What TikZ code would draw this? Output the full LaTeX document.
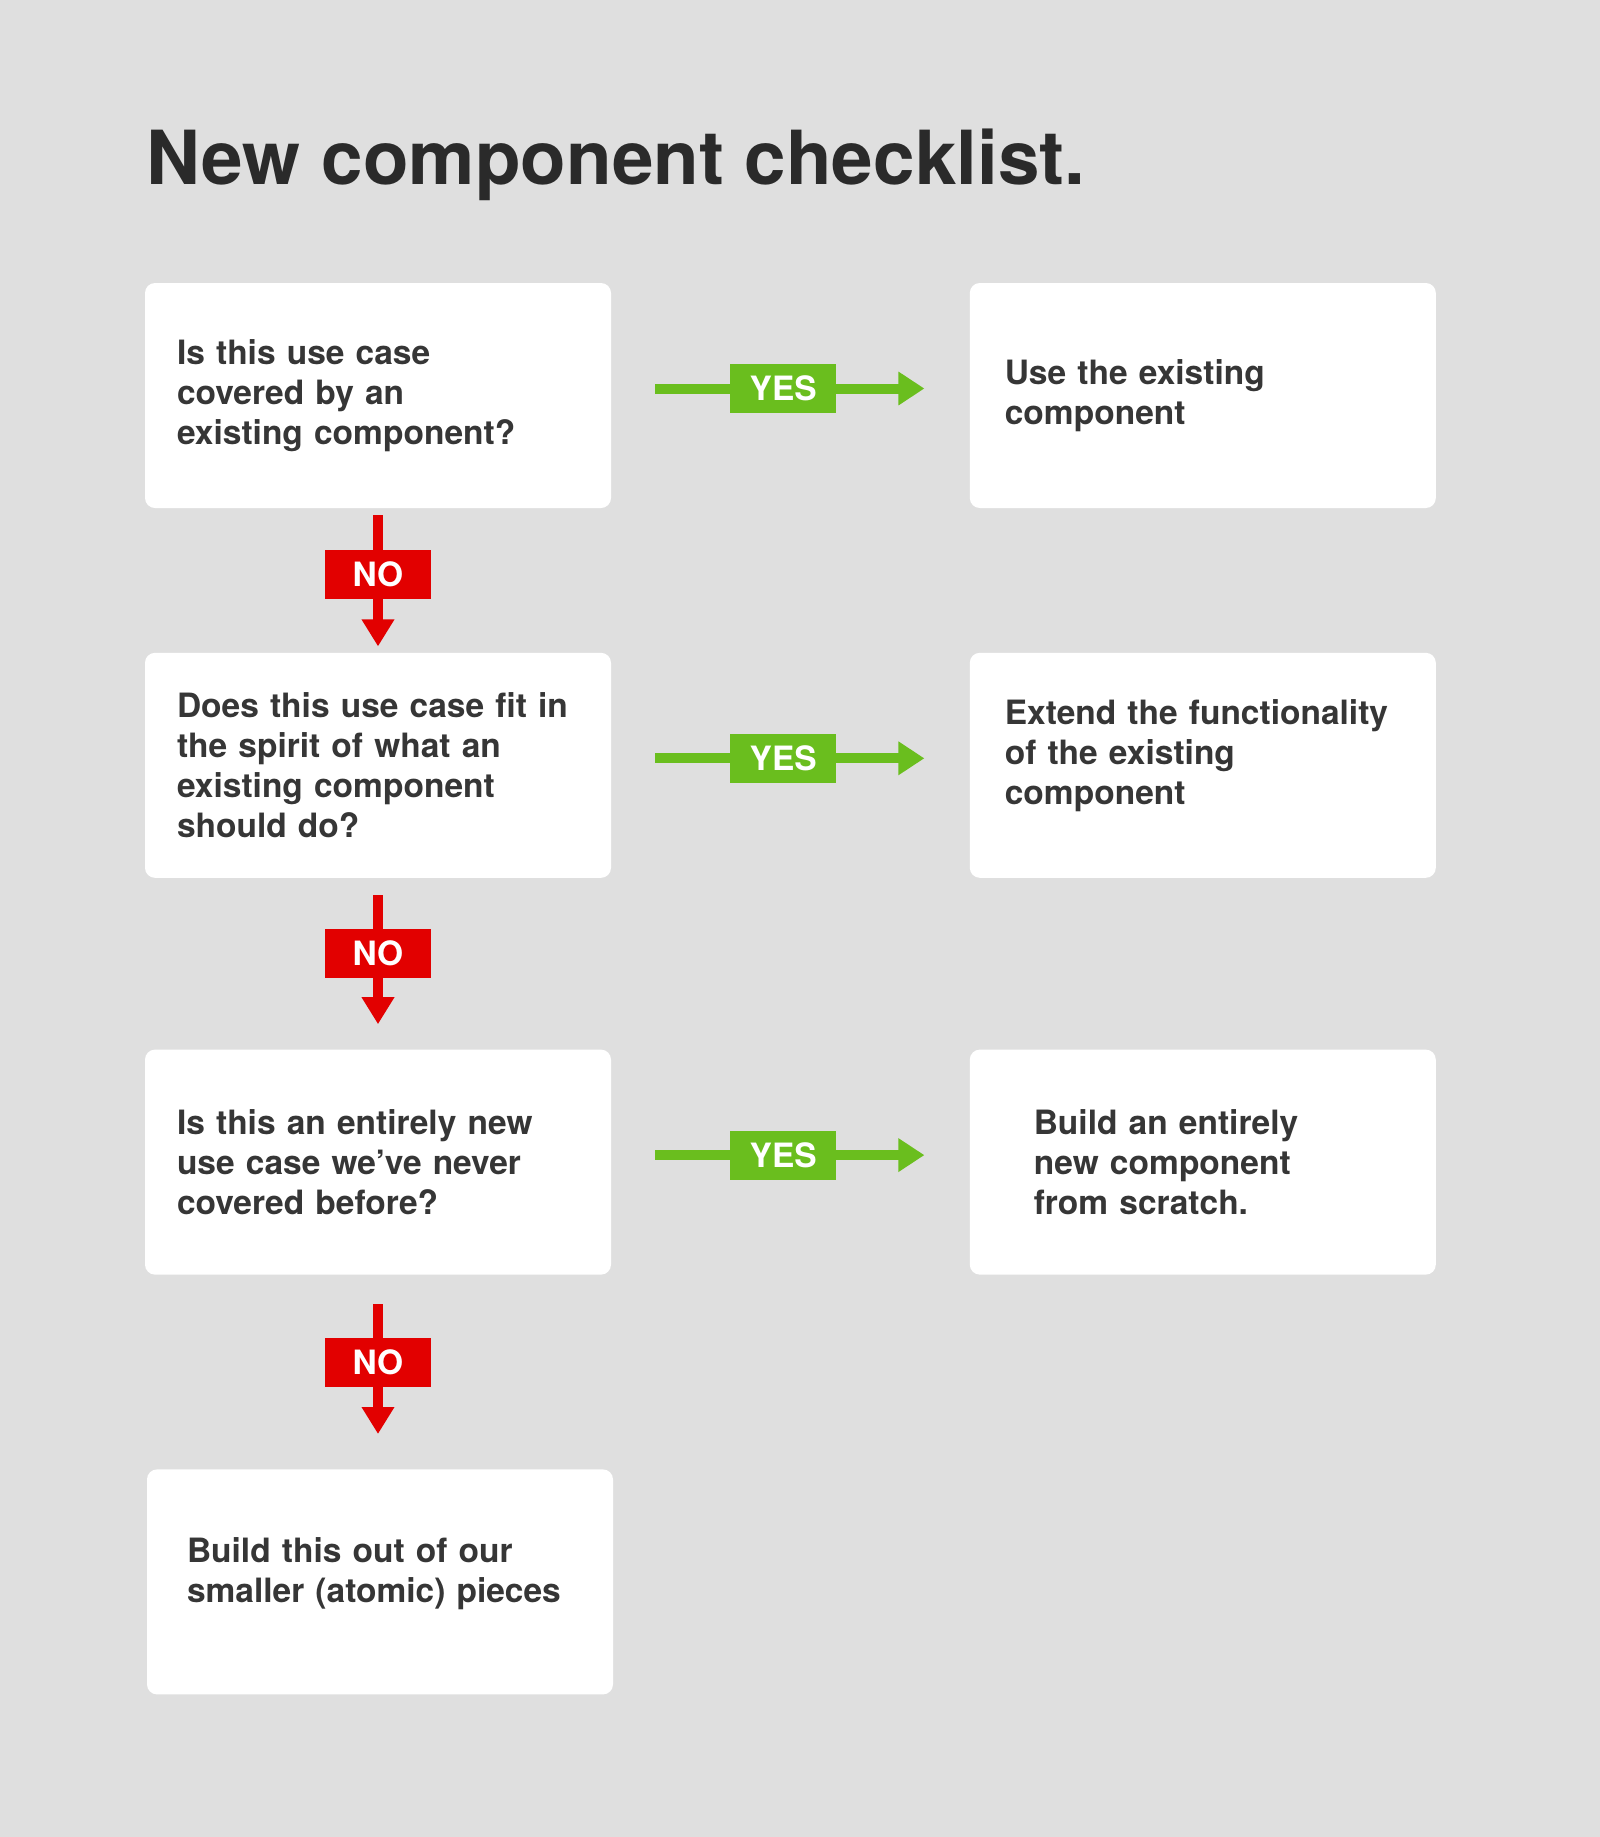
\documentclass[tikz,border=0pt]{standalone}
\usepackage{fontspec}
\setmainfont{TeX Gyre Heros}
\usepackage{xcolor}
\usepackage{tikz}
\usetikzlibrary{positioning, arrows.meta}
\definecolor{bggray}{RGB}{223,223,223}
\definecolor{titlegray}{RGB}{42,42,42}
\definecolor{boxtext}{RGB}{54,54,54}
\definecolor{yesgreen}{RGB}{106,190,30}
\definecolor{nored}{RGB}{226,0,0}
\newcommand{\boxfont}{\bfseries\fontsize{16.75pt}{20pt}\selectfont}

\tikzset{
  box/.style={fill=white, rounded corners=5pt, minimum width=233pt, minimum height=112.5pt,
    inner ysep=0pt, align=left, text=boxtext, font=\boxfont},
  yesline/.style={draw=yesgreen, line width=5pt, -{Triangle[length=13pt,width=16pt]},
    shorten <=22pt, shorten >=22.5pt},
  noline/.style={draw=nored, line width=5pt, -{Triangle[length=13.5pt,width=15.5pt]}},
  yeslabel/.style={fill=yesgreen, text=white, font=\boxfont, inner sep=0pt,
    minimum width=53pt, minimum height=24.5pt},
  nolabel/.style={yeslabel, fill=nored}
}

\begin{document}
\begin{tikzpicture}[x=0.5pt, y=-0.5pt]
\fill[bggray] (0,0) rectangle (1600,1837);
\node[anchor=base west, inner sep=0pt, text=titlegray, font=\bfseries\fontsize{37.3pt}{44pt}\selectfont] (title) at (146,184) {New component checklist.};

\node[box, inner xsep=16pt, text width=201pt] (q1) at (378,395.5) {Is this use case\\covered by an\\existing component?};
\node[box, inner xsep=16pt, text width=201pt] (q2) [below=72pt of q1] {Does this use case fit in\\the spirit of what an\\existing component\\should do?};
\node[box, inner xsep=16pt, text width=201pt] (q3) [below=85.5pt of q2] {Is this an entirely new\\use case we’ve never\\covered before?};
\node[box, inner xsep=20pt, text width=193pt, text depth=31.5pt] (q4) [below=97pt of q3, xshift=1pt] {Build this out of our\\smaller (atomic) pieces};

\node[box, inner xsep=17.5pt, text width=198pt] (a1) [right=179pt of q1] {Use the existing\\component};
\node[box, inner xsep=17.5pt, text width=198pt, text depth=53.5pt] (a2) [right=179pt of q2] {Extend the functionality\\of the existing\\component};
\node[box, inner xsep=32pt, text width=169pt] (a3) [right=179pt of q3] {Build an entirely\\new component\\from scratch.};

\draw[yesline] ([yshift=3.5pt]q1.east) -- node[yeslabel, pos=0.48]{YES} ([yshift=3.5pt]a1.west);
\draw[yesline] ([yshift=3.5pt]q2.east) -- node[yeslabel, pos=0.48]{YES} ([yshift=3.5pt]a2.west);
\draw[yesline] ([yshift=3.5pt]q3.east) -- node[yeslabel, pos=0.48]{YES} ([yshift=3.5pt]a3.west);

\draw[noline, shorten <=3.5pt, shorten >=3pt] (q1.south) -- node[nolabel, pos=0.458]{NO} (q2.north);
\draw[noline, shorten <=8.5pt, shorten >=12.5pt] (q2.south) -- node[nolabel, pos=0.44]{NO} (q3.north);
\draw[noline, shorten <=14.5pt, shorten >=17.5pt] (q3.south) -- node[nolabel, pos=0.451]{NO} (q3.south |- q4.north);
\end{tikzpicture}
\end{document}
